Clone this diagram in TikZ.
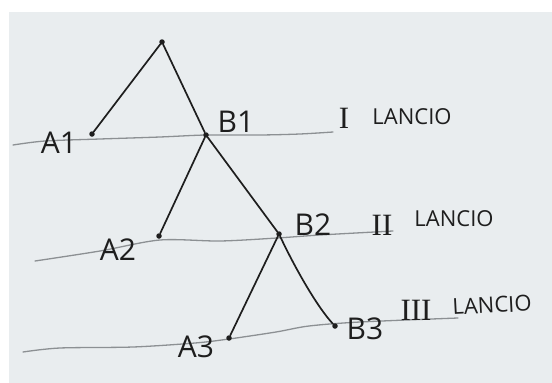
\documentclass[tikz,border=0pt]{standalone}
\usepackage{fontspec}
\setmainfont{Open Sans}
\newfontfamily\numfont{Liberation Serif}
\definecolor{paper}{HTML}{E9EDEF}
\definecolor{guidegray}{HTML}{8C9093}
\definecolor{ink}{HTML}{1E1E1E}
\tikzset{
  guide/.style={draw=guidegray, line width=1.3pt, line cap=round},
  edge/.style={draw=ink, line width=1.7pt, line cap=round},
  dotn/.style={circle, fill=ink, inner sep=0pt, minimum size=5.5pt},
  lab/.style={text=ink, font=\fontsize{30}{30}\selectfont, inner sep=0pt},
  lanc/.style={text=ink, font=\fontsize{22}{22}\selectfont, inner sep=0pt},
  rom/.style={text=ink, font=\numfont\fontsize{31}{31}\selectfont, inner sep=0pt}
}
\begin{document}
\begin{tikzpicture}[x=1pt,y=-1pt]
\useasboundingbox (0,0) rectangle (552,383);
\fill[white] (0,0) rectangle (552,383);
\fill[paper] (9,12) rectangle (552,383);
% guide lines
\draw[guide] plot[smooth] coordinates {(13,145) (45,141) (100,139) (160,137) (206,135) (260,135) (300,134) (333,132)};
\draw[guide] plot[smooth] coordinates {(35,261) (100,251) (160,240) (220,241) (277,238) (320,235) (393,231)};
\draw[guide] plot[smooth] coordinates {(23,352) (60,348) (133,347) (195,343) (229,339) (276,332) (309,326) (360,322) (458,318)};
% tree nodes
\node[dotn] (r) at (162,42) {};
\node[dotn] (a1) at (92,134) {};
\node[dotn] (b1) at (206,135) {};
\node[dotn] (a2) at (159,236) {};
\node[dotn] (b2) at (279,234) {};
\node[dotn] (a3) at (229,338) {};
\node[dotn] (b3) at (335,326) {};
% edges
\draw[edge] (r) -- (a1);
\draw[edge] (r) -- (b1);
\draw[edge] (b1) -- (a2);
\draw[edge] (b1) -- (b2);
\draw[edge] (b2) -- (a3);
\draw[edge] (b2) .. controls (296,270) and (318,308) .. (b3);
% labels
\node[lab] (la1) at (59,143) {A1};
\node[lab] (lb1) at (236,122) {B1};
\node[lab] (la2) at (118,250) {A2};
\node[lab] (lb2) at (313,225) {B2};
\node[lab] (la3) at (196,347) {A3};
\node[lab] (lb3) at (365,329) {B3};
% throws
\node[rom] (r1) at (344,118) {I};
\node[lanc] (l1) at (412,117) {LANCIO};
\node[rom] (r2) at (382,225) {II};
\node[lanc] (l2) at (454,219) {LANCIO};
\node[rom] (r3) at (416,310) {III};
\node[lanc, rotate=3] (l3) at (492,305) {LANCIO};
\end{tikzpicture}
\end{document}
